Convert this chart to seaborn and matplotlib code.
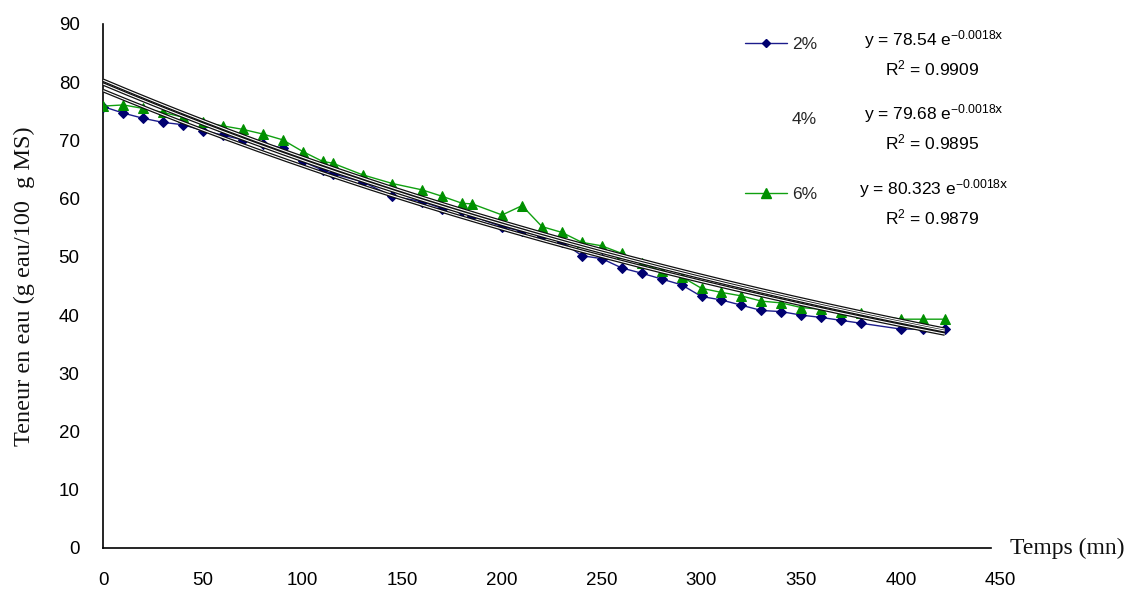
import numpy as np
import pandas as pd
import matplotlib
matplotlib.use("Agg")
import matplotlib.pyplot as plt
import seaborn as sns
from matplotlib.lines import Line2D

# Drying time (min)
temps = [0, 10, 20, 30, 40, 50, 60, 70, 80, 90, 100, 110, 115, 130, 145, 160,
         170, 180, 185, 200, 210, 220, 230, 240, 250, 260, 270, 280, 290, 300,
         310, 320, 330, 340, 350, 360, 370, 380, 400, 411, 422]

# Water content (g water / 100 g dry matter)
teneur_2 = [75.8, 74.7, 73.8, 73.1, 72.7, 71.7, 70.9, 70.1, 69.4, 68.7, 66.4,
            64.9, 64.3, 62.9, 60.4, 59.5, 58.3, 57.9, 57.0, 55.2, 54.4, 53.6,
            52.6, 50.2, 49.7, 48.1, 47.2, 46.2, 45.2, 43.2, 42.6, 41.7, 40.8,
            40.6, 40.0, 39.6, 39.1, 38.6, 37.6, 37.6, 37.6]
teneur_6 = [75.9, 76.1, 75.5, 74.8, 74.0, 73.1, 72.5, 71.9, 71.1, 70.1, 68.1,
            66.4, 66.1, 64.1, 62.6, 61.5, 60.4, 59.2, 59.1, 57.2, 58.8, 55.2,
            54.2, 52.5, 51.9, 50.6, 49.0, 47.5, 46.6, 44.6, 43.9, 43.3, 42.4,
            42.1, 41.3, 41.0, 40.6, 40.3, 39.3, 39.3, 39.3]

# Exponential fits y = a * exp(b * x)
series = ["2%", "4%", "6%"]
fit_a = [78.54, 79.68, 80.323]
fit_a_txt = ["78.54", "79.68", "80.323"]
fit_b = [-0.0018, -0.0018, -0.0018]
fit_r2 = ["0.9909", "0.9895", "0.9879"]

sns.set_theme(style="white")
plt.rcParams["font.family"] = ["Liberation Sans", "DejaVu Sans"]
plt.rcParams["mathtext.default"] = "regular"

W, H = 1133, 590
fig = plt.figure(figsize=(W / 100, H / 100), dpi=100)
x0, x1, y0, y1 = 103.3, 1000.6, 548, 24
ax = fig.add_axes([x0 / W, (H - y0) / H, (x1 - x0) / W, (y0 - y1) / H])

blue = "#1c1c8c"
green = "#10a010"

df = pd.DataFrame({"temps": temps, "t2": teneur_2, "t6": teneur_6})
sns.lineplot(data=df, x="temps", y="t2", ax=ax, color=blue, lw=1.0,
             marker="D", markersize=4.8, markeredgecolor="#000070",
             markerfacecolor="#000070", sort=False, zorder=3)
sns.lineplot(data=df, x="temps", y="t6", ax=ax, color=green, lw=1.0,
             marker="^", markersize=7, markeredgecolor="#009000",
             markerfacecolor="#009000", sort=False, zorder=3)

# Fitted curves drawn as hollow double lines
xs = np.linspace(0, max(temps), 300)
for a, b in zip(fit_a, fit_b):
    ys = a * np.exp(b * xs)
    ax.plot(xs, ys, color="#101010", lw=2.6, zorder=5, solid_capstyle="butt")
    ax.plot(xs, ys, color="white", lw=0.8, zorder=6, solid_capstyle="butt")

ax.set_xlim(0, 450)
ax.set_ylim(0, 90)
ax.set_xticks(np.arange(0, 451, 50))
ax.set_yticks(np.arange(0, 91, 10))
for s in ["top", "right"]:
    ax.spines[s].set_visible(False)
for s in ["left", "bottom"]:
    ax.spines[s].set_color("black")
    ax.spines[s].set_linewidth(1.2)
ax.spines["bottom"].set_bounds(0, 445)
ax.tick_params(axis="both", direction="out", length=5, width=1.0,
               color="black", labelsize=13.5, labelcolor="black")
ax.tick_params(axis="x", pad=12)
ax.tick_params(axis="y", pad=12)
ax.set_xlabel("")
ax.set_ylabel("Teneur en eau (g eau/100  g MS)", family="Liberation Serif",
              fontsize=17.5, color="#111111", labelpad=17)

fig.text(1010 / W, (H - 548) / H, "Temps (mn)", family="Liberation Serif",
         fontsize=17, color="#111111", va="center", ha="left")

# Legend entries with fitted equations
handles = [
    Line2D([], [], color=blue, lw=1.0, marker="D", markersize=4,
           markerfacecolor="#000070", markeredgecolor="#000070"),
    Line2D([], [], color="none", lw=0),
    Line2D([], [], color=green, lw=1.0, marker="^", markersize=7,
           markerfacecolor="#009000", markeredgecolor="#009000"),
]
ax.legend(handles, series, loc="upper left",
          bbox_to_anchor=(745 / W, (H - 37) / H), bbox_transform=fig.transFigure,
          frameon=False, fontsize=12.5, handlelength=2.4, handletextpad=0.3,
          labelspacing=3.45, borderaxespad=0, borderpad=0)

row_y = [40, 114, 189]
for yy, at, b, r2 in zip(row_y, fit_a_txt, fit_b, fit_r2):
    fig.text(934 / W, (H - yy) / H,
             "y = %s e$^{%s\\mathsf{x}}$" % (at, ("%g" % b).replace("-", "\u2212")),
             fontsize=12.5, color="black", ha="center", va="center")
    fig.text(932 / W, (H - yy - 28) / H, "R$^{2}$ = %s" % r2,
             fontsize=12.5, color="black", ha="center", va="center")

fig.savefig("out.png", dpi=100, facecolor="white")
